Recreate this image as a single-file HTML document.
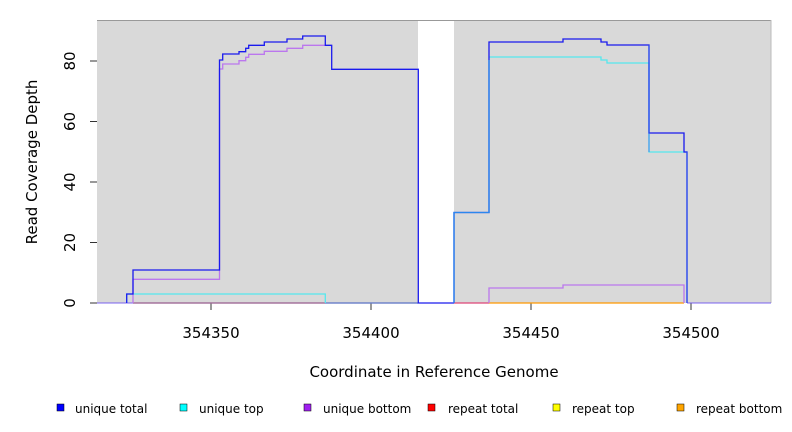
<!DOCTYPE html>
<html><head><meta charset="utf-8"><style>
body{margin:0;background:#fff;}
svg{display:block;font-family:"DejaVu Sans","Liberation Sans",sans-serif;}
</style></head><body>
<svg width="792" height="432" viewBox="0 0 792 432">
<rect x="97" y="20" width="321" height="283" fill="#d9d9d9"/>
<rect x="454" y="20" width="317" height="283" fill="#d9d9d9"/>
<line x1="97" y1="20.5" x2="771" y2="20.5" stroke="#999" stroke-width="1"/>
<line x1="771" y1="20" x2="771" y2="303" stroke="#bbb" stroke-width="1"/>
<g stroke="#333" stroke-width="1">
<line x1="90" y1="303" x2="97" y2="303"/><line x1="90" y1="242.5" x2="97" y2="242.5"/>
<line x1="90" y1="182" x2="97" y2="182"/><line x1="90" y1="121.5" x2="97" y2="121.5"/>
<line x1="90" y1="61" x2="97" y2="61"/>
<line x1="211" y1="303" x2="211" y2="310"/><line x1="371" y1="303" x2="371" y2="310"/>
<line x1="531" y1="303" x2="531" y2="310"/><line x1="691" y1="303" x2="691" y2="310"/>
</g>
<g font-size="15" fill="#000" text-anchor="middle">
<text transform="translate(75,303) rotate(-90)">0</text>
<text transform="translate(75,242.5) rotate(-90)">20</text>
<text transform="translate(75,182) rotate(-90)">40</text>
<text transform="translate(75,121.5) rotate(-90)">60</text>
<text transform="translate(75,61) rotate(-90)">80</text>
<text x="211" y="338">354350</text><text x="371" y="338">354400</text>
<text x="531" y="338">354450</text><text x="691" y="338">354500</text>
<text x="434" y="377">Coordinate in Reference Genome</text>
<text transform="translate(37,162) rotate(-90)">Read Coverage Depth</text>
</g>
<g fill="none" stroke-width="1.3">
<path d="M133,303H325" stroke="#ff9900"/>
<path d="M325,303H418" stroke="#66cc88"/>
<path d="M454,303H489" stroke="#dd4477"/>
<path d="M489,303H684" stroke="#ff9900"/>
<path d="M97,303H418M687,303H771" stroke="#6a50ee" stroke-opacity="0.7"/>
<path d="M126.7,303V294H325.3V303" stroke="#55e8ee"/>
<path d="M133,303V279.3H219.5V69H222.7V64H239V60.7H245.7V57.3H248.7V54.3H264.3V51.3H287V48.3H302.7V45.3H325.3" stroke="#bb77ee"/>
<path d="M489,303V288H563V285H684V303" stroke="#bb77ee"/>
<path d="M489,57H601V60H607V63H649V152H687" stroke="#55e8ee"/>
<path d="M126.7,303V294H133V270H219.5V60H222.7V54H239V51.7H245.7V48.3H248.7V45.3H264.3V42H287V39H302.7V36H325.3V45.3H331.7V69.3H418.3V303H454" stroke="#1a1aee"/>
<path d="M454,303V212.5H489V42H563V39H601V42H607V45H649V133H684V152H687V303" stroke="#1a1aee"/>
<path d="M454,303V212.5H489V60" stroke="#2a88ee"/>
<path d="M649,45V152M687,152V303" stroke="#3a70ee" stroke-opacity="0.6"/>
</g>
<g font-size="12" fill="#000">
<rect x="57" y="404" width="7" height="7" fill="#0000ff" stroke="#000" stroke-width="0.5"/><text x="75" y="413">unique total</text>
<rect x="180" y="404" width="7" height="7" fill="#00ffff" stroke="#000" stroke-width="0.5"/><text x="199" y="413">unique top</text>
<rect x="304" y="404" width="7" height="7" fill="#a020f0" stroke="#000" stroke-width="0.5"/><text x="323" y="413">unique bottom</text>
<rect x="428" y="404" width="7" height="7" fill="#ff0000" stroke="#000" stroke-width="0.5"/><text x="448" y="413">repeat total</text>
<rect x="553" y="404" width="7" height="7" fill="#ffff00" stroke="#000" stroke-width="0.5"/><text x="572" y="413">repeat top</text>
<rect x="677" y="404" width="7" height="7" fill="#ffa500" stroke="#000" stroke-width="0.5"/><text x="696" y="413">repeat bottom</text>
</g>
</svg>
</body></html>
